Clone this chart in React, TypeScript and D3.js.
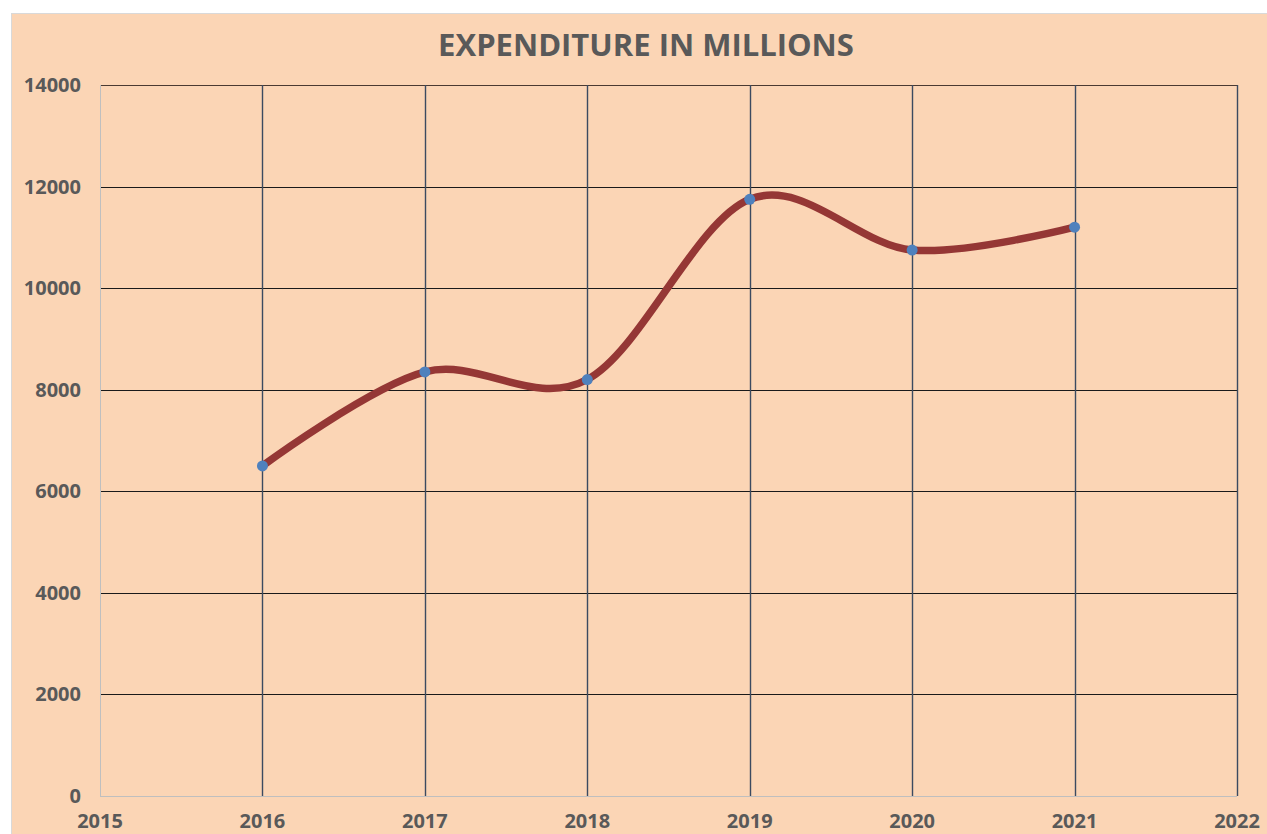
import React from "react";
import * as d3 from "d3";

const years = [2016, 2017, 2018, 2019, 2020, 2021];
const expenditure = [6500, 8350, 8200, 11750, 10750, 11200];
const xTicks = [2015, 2016, 2017, 2018, 2019, 2020, 2021, 2022];
const yTicks = [0, 2000, 4000, 6000, 8000, 10000, 12000, 14000];
const title = "EXPENDITURE IN MILLIONS";

const W = 1267;
const H = 834;
const left = 100, right = 1237, top = 85, bottom = 796;

export default function App() {
  const x = d3.scaleLinear().domain([2015, 2022]).range([left, right]);
  const y = d3.scaleLinear().domain([0, 14000]).range([bottom, top]);
  const pts: [number, number][] = years.map((yr, i) => [x(yr), y(expenditure[i])]);
  const line = d3.line().curve(d3.curveCatmullRom.alpha(0))(pts) || "";
  const font = "'Open Sans', sans-serif";
  const textColor = "#595959";
  return (
    <svg width={W} height={H} style={{ position: "absolute", left: 0, top: 0 }}>
      <rect x={11.5} y={13.5} width={W} height={H} fill="#FBD5B5" stroke="#D9D9D9" strokeWidth={1} />
      <text x={646} y={56} textAnchor="middle" fontFamily={font} fontWeight={700} fontSize={31} fill={textColor}>
        {title}
      </text>
      {yTicks.filter((t) => t > 0).map((t) => (
        <line key={"h" + t} x1={left} x2={right} y1={Math.round(y(t)) + 0.5} y2={Math.round(y(t)) + 0.5} stroke={t === 14000 ? "#4a3a32" : "#1a1a1a"} strokeWidth={1.2} />
      ))}
      {xTicks.filter((t) => t > 2015).map((t) => (
        <line key={"v" + t} x1={Math.round(x(t)) + 0.5} x2={Math.round(x(t)) + 0.5} y1={top} y2={bottom} stroke="#3B4A60" strokeWidth={1.4} />
      ))}
      <line x1={left + 0.5} x2={left + 0.5} y1={top} y2={bottom} stroke="#BFBFBF" strokeWidth={1} />
      <line x1={left} x2={right} y1={bottom + 0.5} y2={bottom + 0.5} stroke="#BFBFBF" strokeWidth={1} />
      {yTicks.map((t) => (
        <text key={"yl" + t} x={81} y={y(t) + 7} textAnchor="end" fontFamily={font} fontWeight={700} fontSize={20} fill={textColor}>
          {t}
        </text>
      ))}
      {xTicks.map((t) => (
        <text key={"xl" + t} x={x(t)} y={828} textAnchor="middle" fontFamily={font} fontWeight={700} fontSize={20} fill={textColor}>
          {t}
        </text>
      ))}
      <path d={line} fill="none" stroke="#953735" strokeWidth={7.5} strokeLinecap="round" />
      {pts.map((p, i) => (
        <circle key={"p" + i} cx={p[0]} cy={p[1]} r={5.5} fill="#4F81BD" />
      ))}
    </svg>
  );
}
